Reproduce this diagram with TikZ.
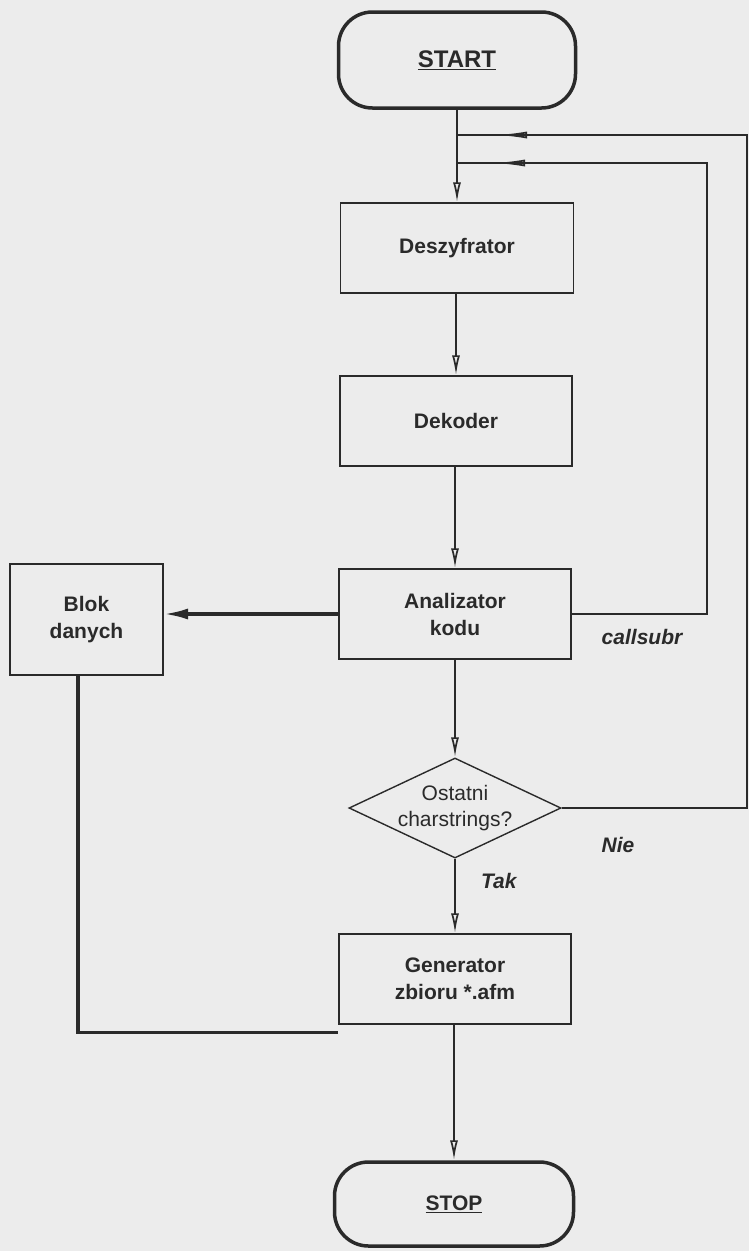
\documentclass[tikz,border=0pt]{standalone}
\usepackage{fontspec}
\setmainfont{Liberation Sans}
\usetikzlibrary{shapes.geometric,arrows.meta,decorations.markings}
\definecolor{paper}{HTML}{ECECEC}
\definecolor{ink}{HTML}{2A2A2A}

\begin{document}
\begin{tikzpicture}[x=1pt,y=-1pt,
  lbl/.style={font=\bfseries\fontsize{21}{27}\selectfont,text=ink,align=center},
  stepbox/.style={lbl,draw=ink,line width=1.5pt,rectangle,inner sep=0pt,
    minimum width=232pt,minimum height=90pt},
  terminal/.style={draw=ink,line width=3.5pt,rounded corners=34pt,rectangle,
    inner sep=0pt,text=ink},
  decision/.style={draw=ink,line width=1.4pt,diamond,aspect=2.1,inner sep=0pt,
    minimum width=212pt,minimum height=99pt,align=center,text=ink,
    font=\fontsize{21}{26}\selectfont},
  flow/.style={draw=ink,line width=1.7pt},
  tip/.style={-{Latex[open,length=20pt,width=8pt]}},
  thickflow/.style={draw=ink,line width=3.2pt},
  loopmark/.style={postaction={decorate},decoration={markings,
    mark=at position #1 with {\arrow{Latex[open,length=30pt,width=7pt]}}}},
  note/.style={font=\bfseries\itshape\fontsize{21}{26}\selectfont,text=ink}
]
% paper
\fill[paper] (0,0) rectangle (749,1251);
\useasboundingbox (0,0) rectangle (749,1251);

% terminals
\node[terminal,minimum width=237pt,minimum height=96pt,
  font=\bfseries\fontsize{24}{28}\selectfont] (start) at (457,60) {\underline{START}};
\node[terminal,minimum width=239pt,minimum height=84pt,
  font=\bfseries\fontsize{21}{26}\selectfont] (stop) at (454,1204) {\underline{STOP}};

% processing steps
\node[stepbox,minimum width=233pt] (desz) at (457,248) {Deszyfrator};
\node[stepbox] (dek) at (456,421) {Dekoder};
\node[stepbox] (anal) at (455,614) {Analizator\\kodu};
\node[stepbox,line width=2pt,minimum width=153pt,minimum height=111pt] (blok) at (86.5,619.5) {Blok\\danych};
\node[decision] (dec) at (455,808) {Ostatni\\charstrings?};
\node[stepbox] (gen) at (455,979) {Generator\\zbioru *.afm};

% trunk junctions for the two feedback loops
\coordinate (jnie) at (457,135);
\coordinate (jcall) at (457,163);
\coordinate (rnie) at (747,0);
\coordinate (rcall) at (707,0);

% main flow
\draw[flow,tip] (start.south) -- (start.south |- desz.north);
\draw[flow,tip] (desz.south -| dek.north) -- (dek.north);
\draw[flow,tip] (dek.south -| anal.north) -- (anal.north);
\draw[flow,tip] (anal.south) -- (dec.north);
\draw[flow,tip] (dec.south) -- node[note,right=22pt,pos=0.3] {Tak} (gen.north);
\draw[flow,tip] (gen.south -| stop.north) -- (stop.north);

% data block
\draw[thickflow,-{Latex[length=24pt,width=11pt]}] (anal.west) -- (anal.west -| blok.east);
\draw[thickflow] (blok.south -| 78,0) |- ([yshift=-8pt]gen.south west);

% feedback loops
\draw[flow,loopmark=-38pt] (anal.east) -| (rcall |- jcall) -- (jcall);
\node[note] at (642,637) {callsubr};
\draw[flow,loopmark=-40pt] (dec.east) -| (rnie |- jnie) -- (jnie);
\node[note] at (618,845) {Nie};
\end{tikzpicture}
\end{document}
